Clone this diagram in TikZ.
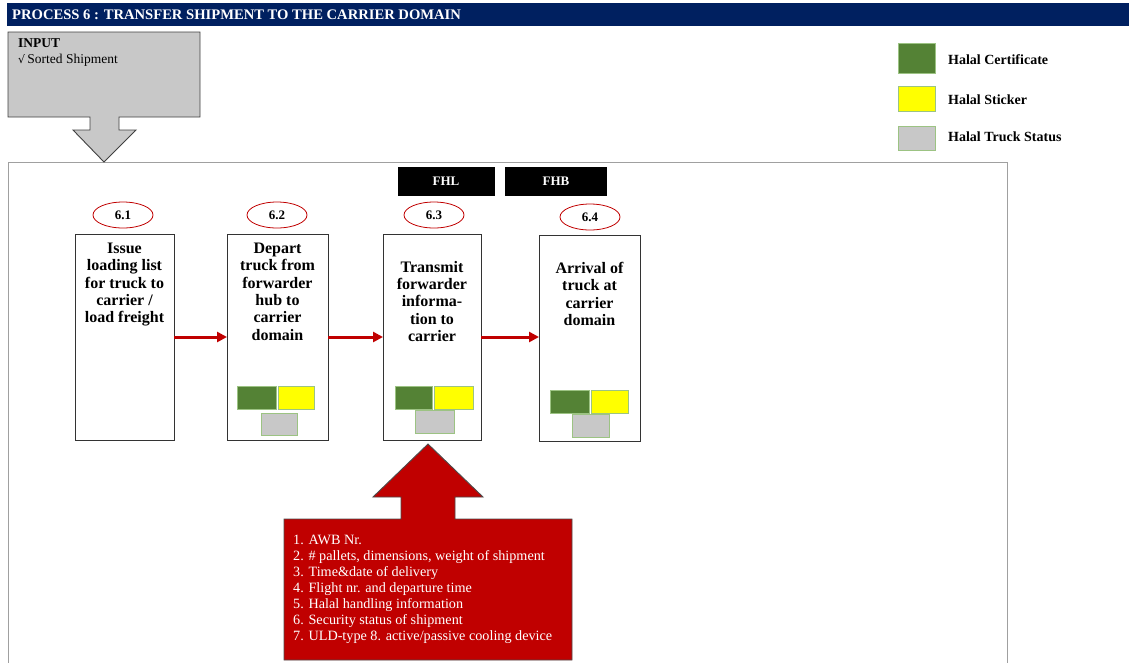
\documentclass[tikz,border=0pt]{standalone}
\usepackage{fontspec}
\setmainfont{Liberation Serif}
\usetikzlibrary{shapes.geometric,arrows.meta}
\definecolor{navy}{HTML}{002060}
\definecolor{hgreen}{HTML}{548235}
\definecolor{hyellow}{HTML}{FFFF00}
\definecolor{hgray}{HTML}{C8C8C8}
\definecolor{hedge}{HTML}{9CC383}
\definecolor{dred}{HTML}{C00000}
\definecolor{framegray}{HTML}{A0A0A0}
\tikzset{
  procbox/.style={draw=black!80, line width=0.9pt, fill=white},
  numell/.style={ellipse, draw=dred, line width=0.8pt, minimum width=60pt, minimum height=26pt, inner sep=0pt, font=\fontsize{13}{15}\selectfont\bfseries},
  proctext/.style={align=center, font=\fontsize{16}{17.3}\selectfont\bfseries, inner sep=0pt, anchor=north},
  tag/.style={fill=black, text=white, font=\fontsize{13}{15}\selectfont\bfseries, inner sep=0pt},
  sq/.style={draw=hedge, line width=0.9pt},
  flow/.style={draw=dred, line width=3pt, -{Triangle[length=10pt,width=10pt]}},
  legtext/.style={anchor=west, font=\fontsize{14}{16}\selectfont\bfseries, inner sep=0pt}
}
\begin{document}
\begin{tikzpicture}[x=1pt,y=-1pt]
\useasboundingbox (0,0) rectangle (1129,662);
\clip (0,0) rectangle (1129,662);
% header
\fill[navy] (7,3) rectangle (1129,26);
\node[anchor=west, text=white, font=\fontsize{14.6}{17}\selectfont\bfseries, inner sep=0pt] (title) at (12,15) {PROCESS 6 : TRANSFER SHIPMENT TO THE CARRIER DOMAIN};
% main frame
\draw[framegray, line width=0.8pt] (8,162) rectangle (1007,700);
% input callout
\draw[fill=hgray, draw=black!75, line width=0.9pt] (8,32) -- (200,32) -- (200,117) -- (119,117) -- (119,130) -- (136,130) -- (104,162) -- (73,130) -- (90,130) -- (90,117) -- (8,117) -- cycle;
\node[anchor=north west, align=left, inner sep=0pt, font=\fontsize{13.5}{16.5}\selectfont] (input) at (18,38) {\textbf{INPUT}\\{\fontspec{DejaVu Serif}\fontsize{11}{12}\selectfont √}\,Sorted Shipment};
% tags
\node[tag, minimum width=97pt, minimum height=29pt] (fhl) at (446,181) {FHL};
\node[tag, minimum width=102pt, minimum height=29pt] (fhb) at (556,181) {FHB};
% ellipses
\node[numell] (n1) at (123,215) {6.1};
\node[numell] (n2) at (277,215) {6.2};
\node[numell] (n3) at (434,215) {6.3};
\node[numell] (n4) at (590,217) {6.4};
% process boxes
\draw[procbox] (75,234) rectangle (174,440);
\draw[procbox] (227,234) rectangle (328,440);
\draw[procbox] (383,234) rectangle (481,440);
\draw[procbox] (539,235) rectangle (640,441);
\coordinate (b1e) at (174,337);
\coordinate (b2w) at (227,337);
\coordinate (b2e) at (328,337);
\coordinate (b3w) at (383,337);
\coordinate (b3e) at (481,337);
\coordinate (b4w) at (539,337);
\node[proctext] (t1) at (124.5,243) {Issue\\loading list\\for truck to\\carrier /\\load freight};
\node[proctext] (t2) at (277.5,243) {Depart\\truck from\\forwarder\\hub to\\carrier\\domain};
\node[proctext] (t3) at (432,261) {Transmit\\forwarder\\informa-\\tion to\\carrier};
\node[proctext] (t4) at (589.5,262) {Arrival of\\truck at\\carrier\\domain};
% arrows
\draw[flow] (b1e) -- (b2w);
\draw[flow] (b2e) -- (b3w);
\draw[flow] (b3e) -- (b4w);
% small squares
\draw[sq, fill=hgreen] (237,386) rectangle (276,409);
\draw[sq, fill=hyellow] (278,386) rectangle (314,409);
\draw[sq, fill=hgray] (261,413) rectangle (297,435);
\draw[sq, fill=hgreen] (395,386) rectangle (432,409);
\draw[sq, fill=hyellow] (434,386) rectangle (473,409);
\draw[sq, fill=hgray] (415,410) rectangle (454,433);
\draw[sq, fill=hgreen] (550,390) rectangle (589,413);
\draw[sq, fill=hyellow] (591,390) rectangle (628,413);
\draw[sq, fill=hgray] (572,414) rectangle (609,437);
% legend
\draw[sq, fill=hgreen] (898,43) rectangle (935,73);
\draw[sq, fill=hyellow] (898,86) rectangle (935,111);
\draw[sq, fill=hgray] (898,126) rectangle (935,150);
\node[legtext] (l1) at (948,60) {Halal Certificate};
\node[legtext] (l2) at (948,100) {Halal Sticker};
\node[legtext] (l3) at (948,137) {Halal Truck Status};
% red callout
\draw[fill=dred, draw=black!70, line width=0.9pt] (284,519) -- (401,519) -- (401,497) -- (373,497) -- (428,444) -- (483,497) -- (455,497) -- (455,519) -- (572,519) -- (572,660) -- (284,660) -- cycle;
\node[anchor=north west, align=left, inner sep=0pt, text=white, font=\fontsize{14.2}{16}\selectfont] (list) at (293,535) {1. AWB Nr.\\2. \# pallets, dimensions, weight of shipment\\3. Time\&date of delivery\\4. Flight nr. and departure time\\5. Halal handling information\\6. Security status of shipment\\7. ULD-type 8. active/passive cooling device};
\end{tikzpicture}
\end{document}
